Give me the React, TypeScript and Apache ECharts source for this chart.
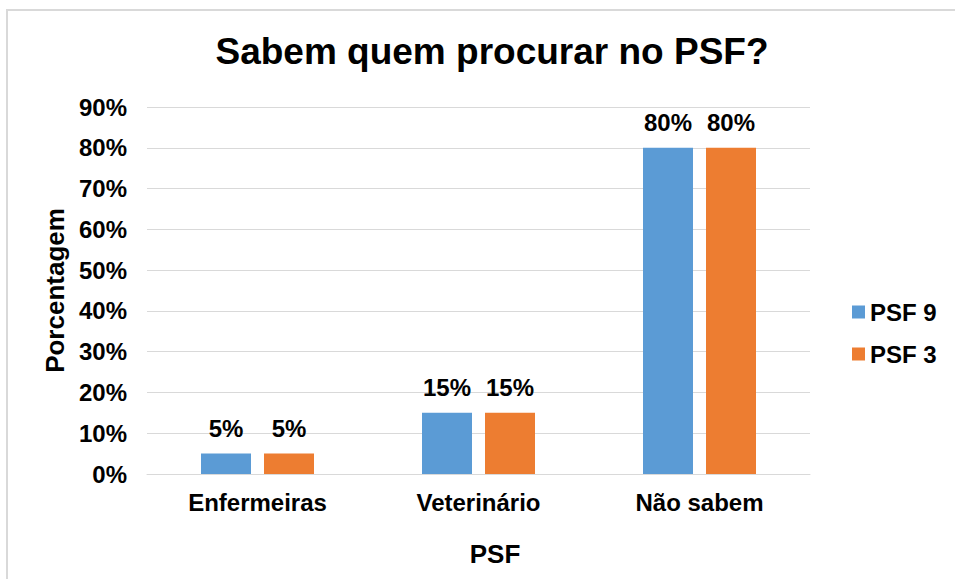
import React, { useEffect, useRef } from "react";
import * as echarts from "echarts";

const categories = ["Enfermeiras", "Veterinário", "Não sabem"];
const psf9 = [5, 15, 80];
const psf3 = [5, 15, 80];
const seriesNames = ["PSF 9", "PSF 3"];
const FONT = "'Liberation Sans', Arial, sans-serif";

export default function App() {
  const ref = useRef<HTMLDivElement>(null);
  useEffect(() => {
    document.body.style.margin = "0";
    const chart = echarts.init(ref.current!, null, { renderer: "svg" });
    const label = {
      show: true,
      position: "top" as const,
      distance: 13,
      formatter: "{c}%",
      color: "#000",
      fontFamily: FONT,
      fontSize: 24,
      fontWeight: "bold" as const,
    };
    chart.setOption({
      animation: false,
      backgroundColor: "#fff",
      textStyle: { fontFamily: FONT },
      title: {
        text: "Sabem quem procurar no PSF?",
        left: 487,
        textAlign: "center",
        top: 28,
        textStyle: { fontFamily: FONT, fontSize: 37, fontWeight: "bold", color: "#000" },
      },
      graphic: [
        {
          type: "rect",
          shape: { x: 7, y: 10, width: 970, height: 620 },
          style: { fill: "none", stroke: "#d9d9d9", lineWidth: 2 },
          silent: true,
        },
      ],
      legend: {
        orient: "vertical",
        left: 847,
        top: 295,
        itemWidth: 13,
        itemHeight: 13,
        itemGap: 18,
        icon: "rect",
        textStyle: { fontFamily: FONT, fontSize: 24, fontWeight: "bold", color: "#000" },
        data: seriesNames,
      },
      grid: { left: 147, right: 145, top: 107, bottom: 105, containLabel: false },
      xAxis: {
        type: "category",
        data: categories,
        name: "PSF",
        nameLocation: "middle",
        nameGap: 67,
        nameTextStyle: {
          fontFamily: FONT,
          fontSize: 26,
          fontWeight: "bold",
          color: "#000",
          padding: [0, 0, 0, 33],
        },
        axisLine: { show: true, lineStyle: { color: "#d9d9d9", width: 1 } },
        axisTick: { show: false },
        axisLabel: { fontFamily: FONT, fontSize: 24, fontWeight: "bold", color: "#000", margin: 16 },
      },
      yAxis: {
        type: "value",
        min: 0,
        max: 90,
        interval: 10,
        name: "Porcentagem",
        nameLocation: "middle",
        nameRotate: 90,
        nameGap: 77,
        nameTextStyle: { fontFamily: FONT, fontSize: 26, fontWeight: "bold", color: "#000" },
        axisLine: { show: false },
        axisTick: { show: false },
        axisLabel: {
          formatter: "{value}%",
          fontFamily: FONT,
          fontSize: 24,
          fontWeight: "bold",
          color: "#000",
          margin: 20,
        },
        splitLine: { lineStyle: { color: "#d9d9d9", width: 1 } },
      },
      series: [
        {
          name: seriesNames[0],
          type: "bar",
          data: psf9,
          barWidth: 50,
          barGap: "26%",
          itemStyle: { color: "#5B9BD5" },
          label,
        },
        {
          name: seriesNames[1],
          type: "bar",
          data: psf3,
          barWidth: 50,
          barGap: "26%",
          itemStyle: { color: "#ED7D31" },
          label,
        },
      ],
    });
    return () => chart.dispose();
  }, []);
  return <div ref={ref} style={{ width: 955, height: 579 }} />;
}
